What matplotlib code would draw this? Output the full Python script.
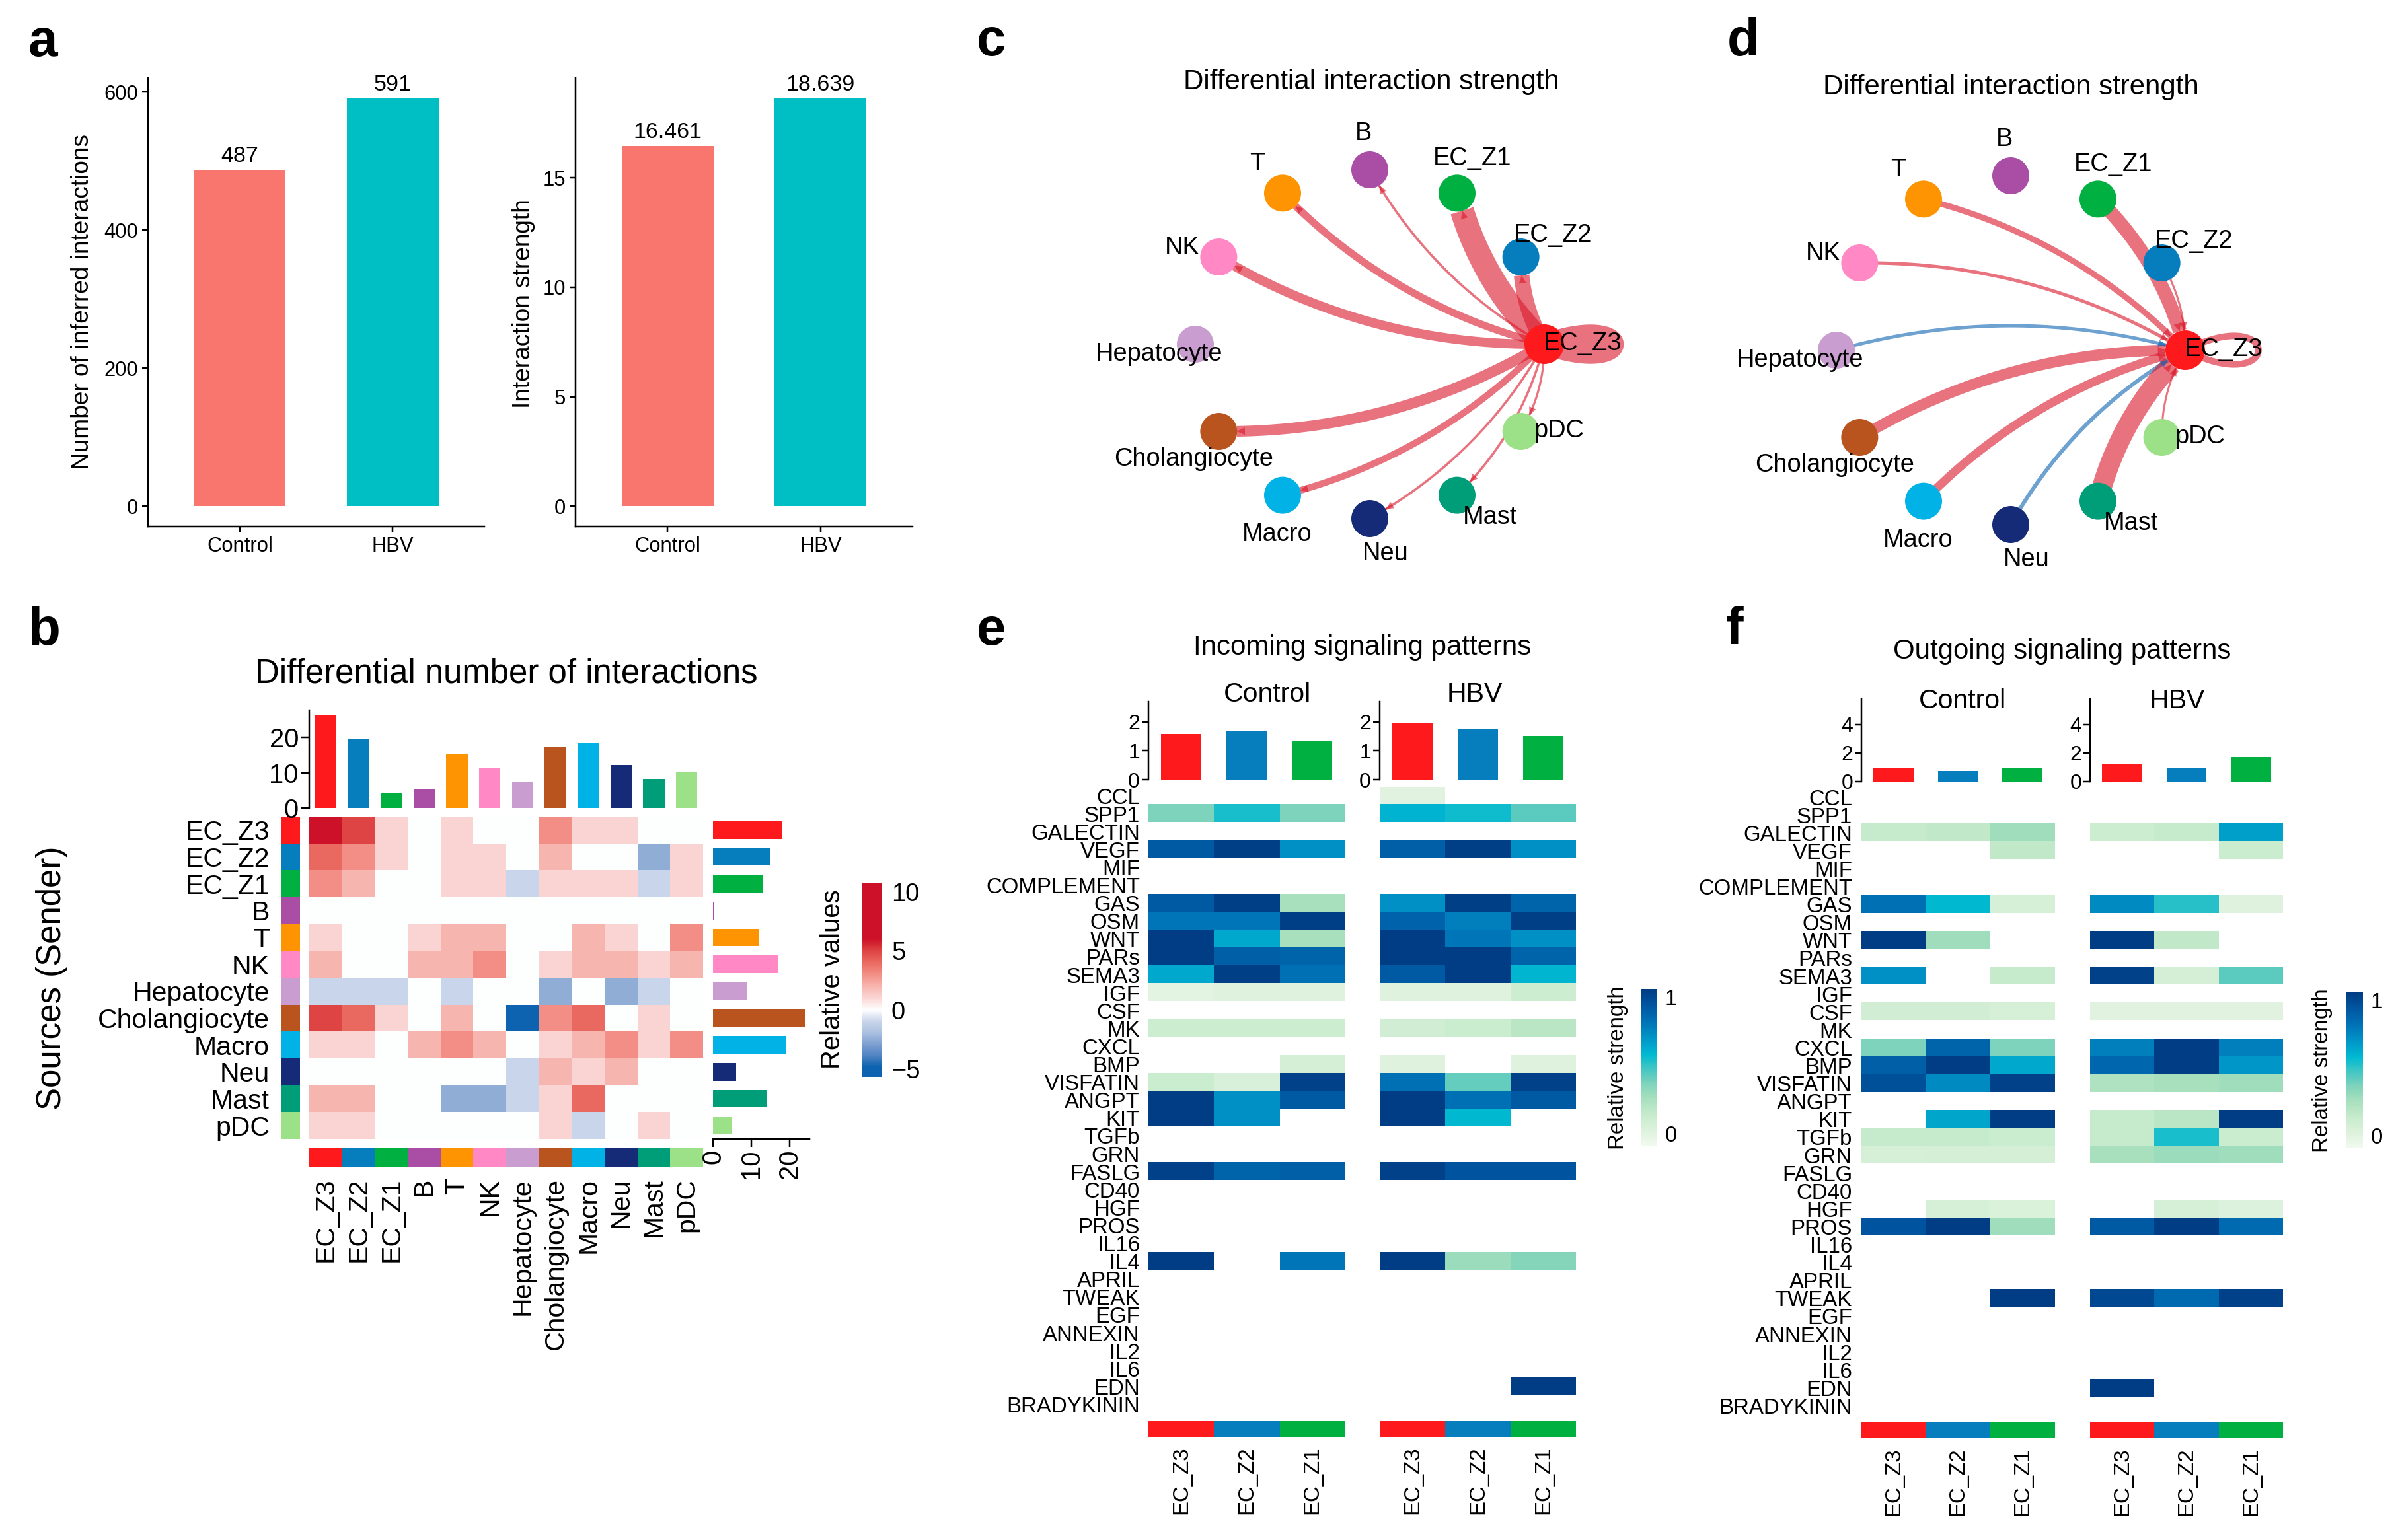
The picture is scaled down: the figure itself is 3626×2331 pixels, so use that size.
import numpy as np
import matplotlib
matplotlib.use("Agg")
import matplotlib.pyplot as plt
from matplotlib.colors import LinearSegmentedColormap, ListedColormap, Normalize
from matplotlib.cm import ScalarMappable
from matplotlib.patches import Circle, Polygon

plt.rcParams['font.family'] = ['Liberation Sans', 'DejaVu Sans']

W, H, DPI = 3626, 2331, 200
PT = 72.0 / DPI


def fs(px):
    return px * PT


nan = np.nan

# ---------------- data: panel a ----------------
groups = ['Control', 'HBV']
n_interactions = [487, 591]
interaction_strength = [16.461, 18.639]
group_colors = ['#F8766D', '#00BFC4']

# ---------------- data: panel b ----------------
cell_types = ['EC_Z3', 'EC_Z2', 'EC_Z1', 'B', 'T', 'NK', 'Hepatocyte',
              'Cholangiocyte', 'Macro', 'Neu', 'Mast', 'pDC']
cell_colors = ['#FE1A1C', '#067EBE', '#00B041', '#A94DA5', '#FF9402', '#FF88C5',
               '#C99DCF', '#BA541F', '#00B2E6', '#152B78', '#009E78', '#9CE088']

diff_count = [
    [7, 5, 1, 0, 1, 0, 0, 3, 1, 1, 0, 0],
    [4, 3, 1, 0, 1, 1, 0, 2, 0, 0, -2.5, 1],
    [3, 2, 0, 0, 1, 1, -1, 1, 1, 1, -1, 1],
    [0, 0, 0, 0, 0, 0, 0, 0, 0, 0, 0, 0],
    [1, 0, 0, 1, 2, 2, 0, 0, 2, 1, 0, 3],
    [2, 0, 0, 2, 2, 3, 0, 1, 2, 2, 1, 2],
    [-1, -1, -1, 0, -1, 0, 0, -2.5, 0, -2.5, -1, 0],
    [5, 4, 1, 0, 2, 0, -5, 3, 4, 0, 1, 0],
    [1, 1, 0, 2, 3, 2, 0, 1, 2, 3, 1, 3],
    [0, 0, 0, 0, 0, 0, -1, 2, 1, 2, 0, 0],
    [2, 2, 0, 0, -2.5, -2.5, -1, 1, 4, 0, 0, 0],
    [1, 1, 0, 0, 0, 0, 0, 1, -1, 0, 1, 0],
]
receiver_totals = [26.3, 19.4, 4.1, 5.3, 15.2, 11.3, 7.3, 17.3, 18.4, 12.2, 8.3, 10.2]
sender_totals = [17.9, 15.0, 13.0, 0.15, 12.1, 17.0, 9.0, 24.0, 19.0, 6.0, 14.0, 5.0]
diff_ticks = [-5, 0, 5, 10]
diff_range = [-5.67, 10.7]

# ---------------- data: panels c, d ----------------
c_partners = ['EC_Z3', 'EC_Z2', 'EC_Z1', 'B', 'T', 'NK', 'Cholangiocyte',
              'Macro', 'Neu', 'Mast', 'pDC']          # EC_Z3 -> partner
c_strength = [0.85, 0.65, 1.00, 0.10, 0.31, 0.39, 0.45, 0.28, 0.10, 0.10, 0.09]
d_partners = ['EC_Z3', 'EC_Z2', 'EC_Z1', 'T', 'NK', 'Hepatocyte', 'Cholangiocyte',
              'Macro', 'Neu', 'Mast', 'pDC']          # partner -> EC_Z3
d_strength = [0.33, 0.10, 0.70, 0.30, 0.17, -0.17, 0.55, 0.43, -0.20, 1.00, 0.10]

# ---------------- data: panels e, f ----------------
pathways = ['CCL', 'SPP1', 'GALECTIN', 'VEGF', 'MIF', 'COMPLEMENT', 'GAS', 'OSM', 'WNT',
            'PARs', 'SEMA3', 'IGF', 'CSF', 'MK', 'CXCL', 'BMP', 'VISFATIN', 'ANGPT', 'KIT',
            'TGFb', 'GRN', 'FASLG', 'CD40', 'HGF', 'PROS', 'IL16', 'IL4', 'APRIL', 'TWEAK',
            'EGF', 'ANNEXIN', 'IL2', 'IL6', 'EDN', 'BRADYKININ']
ec_types = ['EC_Z3', 'EC_Z2', 'EC_Z1']
N3 = [nan, nan, nan]

incoming_control = [
    N3, [0.40, 0.55, 0.40], N3, [0.88, 0.99, 0.70], N3, N3,
    [0.88, 0.99, 0.30], [0.78, 0.78, 0.99], [1.00, 0.63, 0.30], [1.00, 0.86, 0.84],
    [0.63, 0.99, 0.80], [0.07, 0.09, 0.09], N3, [0.17, 0.17, 0.17], N3,
    [nan, nan, 0.14], [0.18, 0.12, 0.98], [1.00, 0.70, 0.88], [1.00, 0.70, nan],
    N3, N3, [0.98, 0.84, 0.86], N3, N3, N3, N3, [1.00, nan, 0.78],
    N3, N3, N3, N3, N3, N3, N3, N3]
incoming_hbv = [
    [0.08, nan, nan], [0.60, 0.56, 0.45], N3, [0.86, 0.99, 0.70], N3, N3,
    [0.70, 0.99, 0.84], [0.85, 0.75, 0.99], [1.00, 0.78, 0.70], [1.00, 1.00, 0.84],
    [0.88, 1.00, 0.59], [0.09, 0.09, 0.17], N3, [0.15, 0.18, 0.24], N3,
    [0.09, nan, 0.09], [0.80, 0.44, 0.98], [1.00, 0.80, 0.88], [1.00, 0.58, nan],
    N3, N3, [0.98, 0.90, 0.90], N3, N3, N3, N3, [1.00, 0.33, 0.38],
    N3, N3, N3, N3, N3, N3, [nan, nan, 1.00], N3]
outgoing_control = [
    N3, N3, [0.20, 0.22, 0.32], [nan, nan, 0.22], N3, N3,
    [0.80, 0.58, 0.13], N3, [1.00, 0.32, nan], N3,
    [0.70, nan, 0.20], N3, [0.15, 0.15, 0.13], N3, [0.40, 0.84, 0.40],
    [0.86, 1.00, 0.63], [0.92, 0.72, 0.98], N3, [nan, 0.64, 1.00],
    [0.20, 0.20, 0.18], [0.13, 0.14, 0.14], N3, N3, [nan, 0.13, 0.11], [0.90, 1.00, 0.32],
    N3, N3, N3, [nan, nan, 1.00], N3, N3, N3, N3, N3, N3]
outgoing_hbv = [
    N3, N3, [0.17, 0.20, 0.66], [nan, nan, 0.18], N3, N3,
    [0.72, 0.53, 0.09], N3, [1.00, 0.22, nan], N3,
    [0.98, 0.14, 0.45], N3, [0.08, 0.08, 0.08], N3, [0.75, 1.00, 0.75],
    [0.83, 1.00, 0.68], [0.28, 0.30, 0.32], N3, [0.20, 0.24, 1.00],
    [0.20, 0.55, 0.18], [0.30, 0.33, 0.32], N3, N3, [nan, 0.13, 0.10], [0.88, 1.00, 0.82],
    N3, N3, N3, [0.95, 0.82, 0.98], N3, N3, N3, N3, [1.00, nan, nan], N3]
incoming_totals = [[1.58, 1.66, 1.33], [1.94, 1.75, 1.52]]
outgoing_totals = [[0.93, 0.76, 0.98], [1.27, 0.93, 1.71]]

# ---------------- colour maps ----------------
b_nodes = [(-5.67, '#0E63B0'), (-4.8, '#0E63B0'), (-4, '#4A80C0'), (-3, '#7A9ECF'),
           (-2, '#A9BEDF'), (-1, '#C8D5EA'), (0, '#FFFFFF'), (1, '#FAD5D3'),
           (2, '#F7B5AE'), (3, '#F28E85'), (4, '#EA6A61'), (5, '#DE4444'),
           (6, '#CC1128'), (10.7, '#CC1128')]
b_cmap = LinearSegmentedColormap.from_list(
    'diffb', [((v - diff_range[0]) / (diff_range[1] - diff_range[0]), c) for v, c in b_nodes])
b_norm = Normalize(*diff_range)

s_nodes = [(0.0, '#F2FAF0'), (0.1, '#DDF2DC'), (0.2, '#C6EBCC'), (0.3, '#A8E0BE'),
           (0.4, '#7DD3BB'), (0.5, '#3EC5C4'), (0.58, '#00BAD2'), (0.68, '#0098C9'),
           (0.8, '#0070B5'), (0.9, '#0055A0'), (1.0, '#003D84')]
s_cmap = LinearSegmentedColormap.from_list('strength', s_nodes)
s_cmap.set_bad('white')

EDGE_POS = '#D91628'
EDGE_NEG = '#0B62B2'

# ---------------- figure ----------------
fig = plt.figure(figsize=(W / DPI, H / DPI), dpi=DPI)
fig.patch.set_facecolor('white')


def axpx(x0, y0, x1, y1):
    return fig.add_axes([x0 / W, 1 - y1 / H, (x1 - x0) / W, (y1 - y0) / H])


def ftext(x, y, s, size, **kw):
    kw.setdefault('ha', 'center')
    kw.setdefault('va', 'center')
    return fig.text(x / W, 1 - y / H, s, fontsize=fs(size), **kw)


def clean(ax):
    for s in ax.spines.values():
        s.set_visible(False)


# panel letters
for letter, x, y in [('a', 43, 85), ('b', 43, 976), ('c', 1478, 84),
                     ('d', 2614, 84), ('e', 1478, 976), ('f', 2612, 974)]:
    ftext(x, y, letter, 80, ha='left', va='baseline', weight='bold')

# ---------------- panel a ----------------
def bar_panel(x0, x1, vals, yticks, fmt):
    ax = axpx(x0, 118, x1, 797)
    xs = np.arange(1, len(groups) + 1)
    ax.bar(xs, vals, width=0.6, color=group_colors)
    ax.set_xlim(0.4, len(groups) + 0.6)
    ax.set_ylim(-0.05 * max(vals), 1.05 * max(vals))
    ax.spines[['top', 'right']].set_visible(False)
    ax.spines[['left', 'bottom']].set_linewidth(fs(2.5))
    ax.set_xticks(xs, groups)
    ax.set_yticks(yticks)
    ax.tick_params(axis='both', length=fs(9), width=fs(2.5), labelsize=fs(31), pad=fs(6))
    for xi, v in zip(xs, vals):
        ax.annotate(fmt(v), (xi, v), xytext=(0, fs(5)), textcoords='offset points',
                    ha='center', va='bottom', fontsize=fs(34))
    return ax


bar_panel(224, 733, n_interactions, [0, 200, 400, 600], lambda v: f'{v:d}')
bar_panel(871, 1381, interaction_strength, [0, 5, 10, 15], lambda v: f'{v:.3f}')
ftext(125, 457, 'Number of inferred interactions', 37, rotation=90)
ftext(792, 460, 'Interaction strength', 37, rotation=90)

# ---------------- panel b ----------------
hx0, hx1, hy0, hy1 = 468, 1064, 1236, 1724
n = len(cell_types)
cat_cmap = ListedColormap(cell_colors)

axh = axpx(hx0, hy0, hx1, hy1)
axh.imshow(np.array(diff_count, float), cmap=b_cmap, norm=b_norm, aspect='auto',
           interpolation='nearest')
axh.set_xticks([]); axh.set_yticks([]); clean(axh)

axr = axpx(425, hy0, 454, hy1)
axr.imshow(np.arange(n).reshape(-1, 1), cmap=cat_cmap, vmin=0, vmax=n - 1,
           aspect='auto', interpolation='nearest')
axr.set_xticks([]); axr.set_yticks(range(n), cell_types)
axr.tick_params(axis='y', length=0, pad=fs(17), labelsize=fs(41))
clean(axr)

axcol = axpx(hx0, 1737, hx1, 1767)
axcol.imshow(np.arange(n).reshape(1, -1), cmap=cat_cmap, vmin=0, vmax=n - 1,
             aspect='auto', interpolation='nearest')
axcol.set_yticks([]); axcol.set_xticks(range(n), cell_types, rotation=90)
axcol.tick_params(axis='x', length=0, pad=fs(16), labelsize=fs(41))
clean(axcol)

axt = axpx(hx0, 1075, hx1, 1223)
axt.bar(range(n), receiver_totals, width=0.65, color=cell_colors)
axt.set_xlim(-0.5, n - 0.5); axt.set_ylim(0, 27.7)
axt.spines[['top', 'right', 'bottom']].set_visible(False)
axt.spines['left'].set_linewidth(fs(2.5))
axt.set_xticks([]); axt.set_yticks([0, 10, 20])
axt.tick_params(axis='y', length=fs(12), width=fs(2.5), labelsize=fs(40), pad=fs(4))
axt.patch.set_visible(False)

axs = axpx(1079, hy0, 1225, hy1)
axs.barh(range(n), sender_totals, height=0.65, color=cell_colors)
axs.set_ylim(n - 0.5, -0.5); axs.set_xlim(0, 25.2)
axs.spines[['top', 'right', 'left']].set_visible(False)
axs.spines['bottom'].set_linewidth(fs(2.5))
axs.set_yticks([]); axs.set_xticks([0, 10, 20], ['0', '10', '20'], rotation=90)
axs.tick_params(axis='x', length=fs(12), width=fs(2.5), labelsize=fs(40), pad=fs(4))
axs.patch.set_visible(False)

axcb = axpx(1304, 1337, 1335, 1630)
cb = fig.colorbar(ScalarMappable(norm=b_norm, cmap=b_cmap), cax=axcb, ticks=diff_ticks)
cb.outline.set_visible(False)
cb.ax.tick_params(length=0, pad=fs(14), labelsize=fs(38))
ftext(1260, 1482, 'Relative values', 40, rotation=90)
ftext(766, 1020, 'Differential number of interactions', 51)
ftext(79, 1480, 'Sources (Sender)', 51, rotation=90)

# ---------------- panels c, d ----------------
LAYOUT_R = 264
NODE_R = {ct: (30 if ct == 'EC_Z3' else 28) for ct in cell_types}
CURV = 0.14
ARROW_LEN, ARROW_HW = 12, 5.5
label_offsets = {'EC_Z3': (58, -1), 'EC_Z2': (48, -33), 'EC_Z1': (23, -52), 'B': (-9, -55),
                 'T': (-38, -44), 'NK': (-55, -14), 'Hepatocyte': (-55, 15),
                 'Cholangiocyte': (-38, 42), 'Macro': (-8, 59), 'Neu': (24, 53),
                 'Mast': (50, 33), 'pDC': (58, -1)}


def draw_network(cx, cy, edges, wmax, loop_ext, loop_h, title_xy):
    half = 430
    ax = axpx(cx - half, cy - half, cx + half, cy + half)
    ax.set_xlim(-half, half); ax.set_ylim(-half, half)
    ax.set_aspect('equal'); ax.axis('off')
    theta = 2 * np.pi * np.arange(n) / n
    pos = {ct: np.array([LAYOUT_R * np.cos(t), LAYOUT_R * np.sin(t)])
           for ct, t in zip(cell_types, theta)}
    tt = np.linspace(0, 1, 600)[:, None]
    for src, tgt, w in edges:
        col = EDGE_POS if w > 0 else EDGE_NEG
        lw = fs(abs(w) * wmax)
        p0 = pos[src]
        if src == tgt:
            P1 = p0 + np.array([loop_ext, loop_h])
            P2 = p0 + np.array([loop_ext, -loop_h])
            pts = ((1 - tt) ** 3) * p0 + 3 * (1 - tt) ** 2 * tt * P1 + \
                3 * (1 - tt) * tt ** 2 * P2 + tt ** 3 * p0
            ax.plot(pts[:, 0], pts[:, 1], color=col, alpha=0.6, lw=lw,
                    solid_joinstyle='round', solid_capstyle='round', zorder=1)
            continue
        p2 = pos[tgt]
        dv = p2 - p0
        ctrl = (p0 + p2) / 2 + CURV * np.array([-dv[1], dv[0]])
        pts = (1 - tt) ** 2 * p0 + 2 * (1 - tt) * tt * ctrl + tt ** 2 * p2
        dist = np.hypot(pts[:, 0] - p2[0], pts[:, 1] - p2[1])
        i_tip = int(np.argmax(dist <= NODE_R[tgt]))
        i_base = int(np.argmax(dist <= NODE_R[tgt] + ARROW_LEN))
        tip, base = pts[i_tip], pts[i_base]
        ax.plot(pts[:i_tip + 1, 0], pts[:i_tip + 1, 1], color=col, alpha=0.6, lw=lw,
                solid_capstyle='butt', zorder=1)
        u = (tip - base) / np.hypot(*(tip - base))
        nv = np.array([-u[1], u[0]])
        ax.add_patch(Polygon([tip, base + nv * ARROW_HW, base - nv * ARROW_HW],
                             closed=True, fc=col, ec='none', alpha=0.6, zorder=1.5))
    for ct, colr in zip(cell_types, cell_colors):
        ax.add_patch(Circle(pos[ct], NODE_R[ct], fc=colr, ec='none', zorder=3))
        ox, oy = label_offsets[ct]
        ax.text(pos[ct][0] + ox, pos[ct][1] - oy, ct, fontsize=fs(38),
                ha='center', va='center', zorder=4)
    ftext(title_xy[0], title_xy[1], 'Differential interaction strength', 42)


draw_network(2073, 521, [('EC_Z3', p, w) for p, w in zip(c_partners, c_strength)],
             36, 140, 50, (2075, 124))
draw_network(3043, 530, [(p, 'EC_Z3', w) for p, w in zip(d_partners, d_strength)],
             30, 148, 75, (3043, 132))

# ---------------- panels e, f ----------------
ec_cmap = ListedColormap(cell_colors[:3])


def signaling(mats, totals, xs, row_top, row_h, bar_y, bar_ylim, bar_ticks,
              label_pad, ann_y, group_xy, title, title_xy, cbar_box, cbar_lab_x):
    nrow = len(pathways)
    y1 = row_top + nrow * row_h
    for gi, (mat, tot, (x0, x1)) in enumerate(zip(mats, totals, xs)):
        ax = axpx(x0, row_top, x1, y1)
        ax.imshow(np.array(mat, float), cmap=s_cmap, vmin=0, vmax=1, aspect='auto',
                  interpolation='nearest')
        ax.set_xticks([])
        if gi == 0:
            ax.set_yticks(range(nrow), pathways)
            ax.tick_params(axis='y', length=0, pad=fs(label_pad), labelsize=fs(33))
        else:
            ax.set_yticks([])
        clean(ax)

        axb = axpx(x0, bar_y[0], x1, bar_y[1])
        axb.bar(range(3), tot, width=0.62, color=cell_colors[:3])
        axb.set_xlim(-0.5, 2.5); axb.set_ylim(*bar_ylim)
        axb.spines[['top', 'right', 'bottom']].set_visible(False)
        axb.spines['left'].set_linewidth(fs(2.5))
        axb.set_xticks([]); axb.set_yticks(bar_ticks)
        axb.tick_params(axis='y', length=fs(10), width=fs(2.5), labelsize=fs(32), pad=fs(3))
        axb.patch.set_visible(False)

        axa = axpx(x0, ann_y[0], x1, ann_y[1])
        axa.imshow(np.arange(3).reshape(1, -1), cmap=ec_cmap, vmin=0, vmax=2,
                   aspect='auto', interpolation='nearest')
        axa.set_yticks([]); axa.set_xticks(range(3), ec_types, rotation=90)
        axa.tick_params(axis='x', length=0, pad=fs(14), labelsize=fs(33))
        clean(axa)
        ftext(group_xy[gi][0], group_xy[gi][1], groups[gi], 41)
    ftext(title_xy[0], title_xy[1], title, 42)
    axc = axpx(*cbar_box)
    cbs = fig.colorbar(ScalarMappable(norm=Normalize(0, 1), cmap=s_cmap), cax=axc, ticks=[])
    cbs.outline.set_visible(False)
    ftext(cbar_box[2] + 12, cbar_box[1], '1', 33, ha='left', va='top')
    ftext(cbar_box[2] + 12, cbar_box[3], '0', 33, ha='left', va='bottom')
    ftext(cbar_lab_x, (cbar_box[1] + cbar_box[3]) / 2, 'Relative strength', 33, rotation=90)


signaling([incoming_control, incoming_hbv], incoming_totals,
          [(1738, 2035), (2088, 2385)], 1191, 27.1, (1062, 1180), (0, 2.7), [0, 1, 2],
          13, (2151, 2175), [(1918, 1051), (2232, 1051)], 'Incoming signaling patterns',
          (2062, 980), (2483, 1497, 2508, 1735), 2448)
signaling([outgoing_control, outgoing_hbv], outgoing_totals,
          [(2817, 3109), (3163, 3455)], 1193, 27.1, (1058, 1183), (0, 5.8), [0, 2, 4],
          14, (2152, 2177), [(2970, 1061), (3295, 1061)], 'Outgoing signaling patterns',
          (3121, 986), (3550, 1502, 3576, 1738), 3515)

fig.savefig('out.png', dpi=DPI, facecolor='white')
